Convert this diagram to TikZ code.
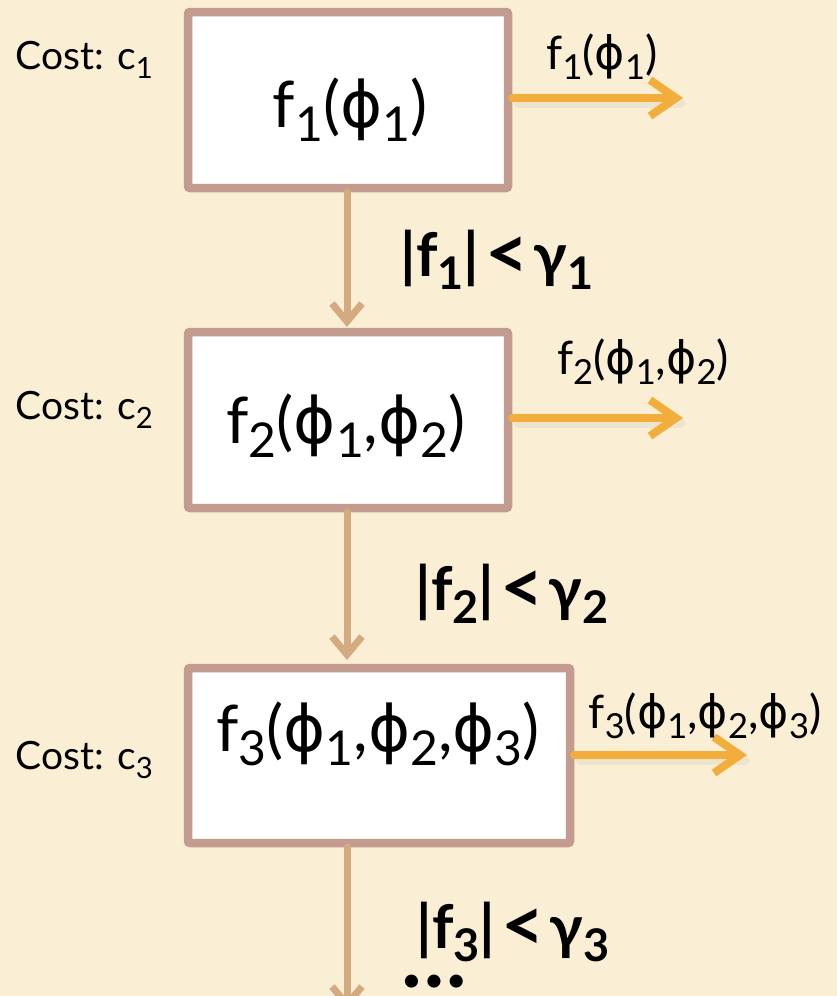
\documentclass[tikz,border=0pt]{standalone}
\usepackage{fontspec}
\usepackage{graphicx}
\setmainfont{Lato}
\newfontfamily\phifont{DejaVu Sans}
\usetikzlibrary{arrows.meta}
\definecolor{bgc}{HTML}{FAEFD4}
\definecolor{boxc}{HTML}{C39B8F}
\definecolor{tanc}{HTML}{D4AA80}
\definecolor{orc}{HTML}{F2AD3A}
\newcommand{\lo}[1]{\raisebox{-0.22em}{\scalebox{0.75}{#1}}}
\newcommand{\ph}{{\phifont ϕ}}
\newcommand{\lt}{\hspace{6pt}\raisebox{-0.05em}{\scalebox{1.25}{<}}\hspace{5pt}}
\tikzset{
  fbox/.style={draw=boxc, line width=8.5pt, fill=white, rounded corners=2pt, inner sep=0pt},
  down/.style={draw=tanc, line width=7pt, line cap=round, -{Straight Barb[length=18pt,width=30pt,line width=7pt]}},
  outa/.style={draw=orc, line width=8pt, line cap=round, -{Straight Barb[length=26pt,width=36pt,line width=8pt]}},
  shad/.style={draw=black!60, opacity=0.08, line width=9pt, line cap=round},
  cost/.style={font=\fontsize{39}{46}\selectfont, anchor=west},
  intext/.style={font=\fontsize{64}{72}\selectfont},
  outtext/.style={font=\fontsize{46}{54}\selectfont},
  cond/.style={font=\bfseries\fontsize{60}{70}\selectfont},
  dotst/.style={font=\bfseries\fontsize{30}{36}\selectfont, inner sep=0pt}
}
\begin{document}
\begin{tikzpicture}[x=1pt,y=-1pt]
\fill[bgc] (0,0) rectangle (837,996);
\useasboundingbox (0,0) rectangle (837,996);

% boxes
\node[fbox, minimum width=320pt, minimum height=176pt] (b1) at (348,100) {};
\node[fbox, minimum width=320pt, minimum height=176pt] (b2) at (348,420) {};
\node[fbox, minimum width=382pt, minimum height=175pt] (b3) at (379,755.5) {};

% box texts
\node[intext] (t1) at (350,110) {f\lo{1}(\ph\lo{1})};
\node[intext] (t2) at (346,426) {f\lo{2}(\ph\lo{1},\ph\lo{2})};
\node[intext] (t3) at (378,734) {f\lo{3}(\ph\lo{1},\ph\lo{2},\ph\lo{3})};

% cost labels
\node[cost] (c1) at (12,60) {Cost: c\lo{1}};
\node[cost] (c2) at (12,410) {Cost: c\lo{2}};
\node[cost] (c3) at (12,760) {Cost: c\lo{3}};

% output arrows
\coordinate (o1) at (683,98);
\coordinate (o2) at (683,418);
\coordinate (o3) at (747,755);
\draw[shad] ([xshift=6pt,yshift=-5pt]b1.east |- o1) -- ([xshift=-2pt,yshift=-5pt]o1);
\draw[shad] ([xshift=6pt,yshift=-5pt]b2.east |- o2) -- ([xshift=-2pt,yshift=-5pt]o2);
\draw[shad] ([xshift=6pt,yshift=-5pt]b3.east |- o3) -- ([xshift=-2pt,yshift=-5pt]o3);
\draw[outa] (b1.east |- o1) -- (o1);
\draw[outa] (b2.east |- o2) -- (o2);
\draw[outa] (b3.east |- o3) -- (o3);

\node[outtext] (l1) at (602,57) {f\lo{1}(\ph\lo{1})};
\node[outtext] (l2) at (643,362) {f\lo{2}(\ph\lo{1},\ph\lo{2})};
\node[outtext] (l3) at (705,716) {f\lo{3}(\ph\lo{1},\ph\lo{2},\ph\lo{3})};

% down arrows
\coordinate (a1) at (347,192);
\coordinate (a2) at (347,327);
\coordinate (a3) at (347,512);
\coordinate (a4) at (347,660);
\coordinate (a5) at (347,847);
\coordinate (a6) at (347,1010);
\draw[down] (a1) -- (a2);
\draw[down] (a3) -- (a4);
\draw[down] (a5) -- (a6);

% conditions
\node[cond] (k1) at (497,260) {|f\lo{1}|\lt γ\lo{1}};
\node[cond] (k2) at (512,594) {|f\lo{2}|\lt γ\lo{2}};
\node[cond] (k3) at (513,932) {|f\lo{3}|\lt γ\lo{3}};
\node[dotst] (dots) at (434,983) {•\hspace{5pt}•\hspace{5pt}•};
\end{tikzpicture}
\end{document}
